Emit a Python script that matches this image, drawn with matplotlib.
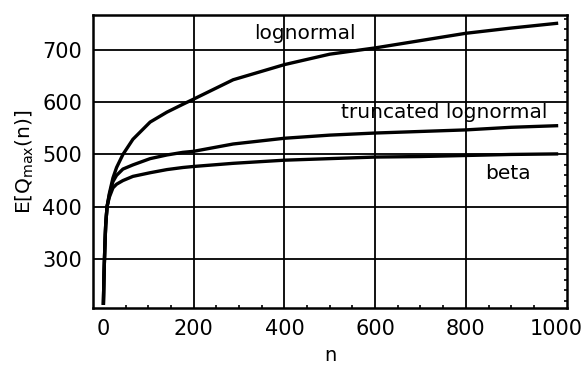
import numpy as np
import matplotlib
matplotlib.use("Agg")
from matplotlib import pyplot as plt
from matplotlib.ticker import MultipleLocator

# values
n = [1, 2, 4, 6, 9, 14, 22, 30, 44, 66, 104, 141, 176, 200,
     287, 400, 500, 600, 700, 800, 900, 1000]
lognormal = [215, 260, 320, 365, 400, 425, 455, 475, 500, 529, 562, 581, 596, 606,
             643, 672, 692, 704, 718, 732, 742, 751]
truncated = [215, 260, 320, 365, 400, 422, 448, 460, 472, 480, 492, 499, 504, 506,
             520, 531, 537, 541, 544, 547, 552, 555]
beta = [215, 260, 320, 365, 400, 418, 436, 443, 450, 458, 465, 471, 475, 477,
        483, 489, 492, 495, 496, 498, 500, 501]

labels = ["lognormal", "truncated lognormal", "beta"]
label_pos = [(445, 732), (752, 581), (893, 464)]

xticks = [0, 200, 400, 600, 800, 1000]
yticks = [300, 400, 500, 600, 700]

plt.rcParams['font.family'] = 'DejaVu Sans'
fig = plt.figure(figsize=(5.83, 3.66), dpi=100)
ax = fig.add_axes([0.1595, 0.1585, 0.813, 0.8005])

for series in (lognormal, truncated, beta):
    ax.plot(n, series, color="black", lw=2.4, solid_joinstyle="round")

for text, (x, y) in zip(labels, label_pos):
    ax.text(x, y, text, ha="center", va="center", fontsize=14.5)

ax.set_xlim(-22, 1023)
ax.set_ylim(206, 767)
ax.set_xticks(xticks)
ax.set_yticks(yticks)
ax.xaxis.set_minor_locator(MultipleLocator(50))
ax.yaxis.set_minor_locator(MultipleLocator(20))
ax.grid(True, which="major", color="black", lw=1.3)
# no vertical grid line at 0 and 1000
gl = ax.xaxis.get_gridlines()
gl[0].set_visible(False)
gl[-1].set_visible(False)
ax.tick_params(which="major", length=0, labelsize=15, pad=8)
ax.tick_params(which="minor", direction="in", length=2.5, width=1.2,
               bottom=True, right=True, left=False, top=False)
for sp in ax.spines.values():
    sp.set_linewidth(1.8)

ax.set_ylabel(r"E[Q$_{\mathrm{max}}$(n)]", fontsize=14.5, labelpad=4)
ax.set_xlabel("n", fontsize=14, labelpad=5)

fig.savefig("out.png", dpi=100)
